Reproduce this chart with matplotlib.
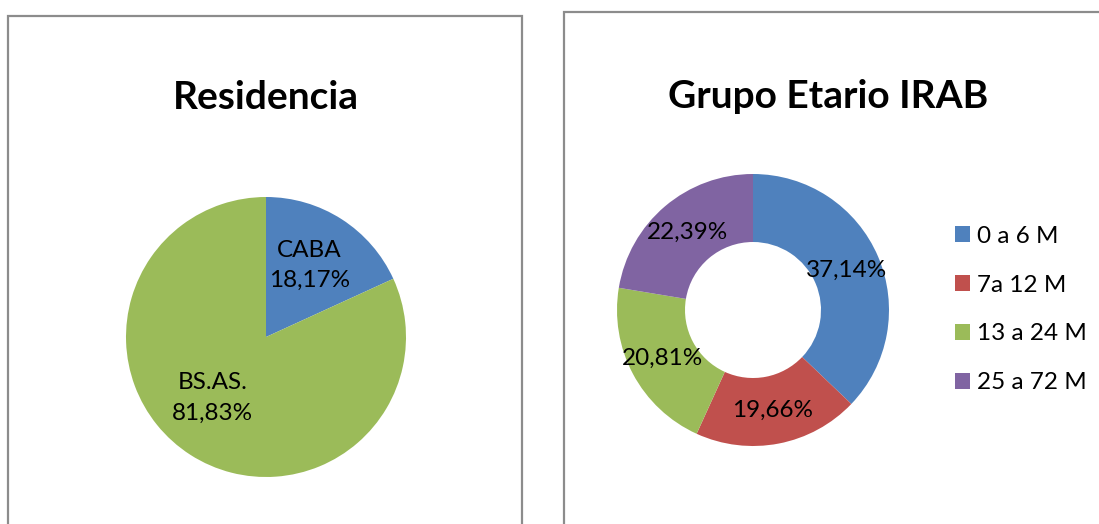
"""Two Excel-style charts: Residencia pie and Grupo Etario IRAB donut."""

import matplotlib
matplotlib.use("Agg")
import matplotlib.pyplot as plt
from matplotlib.patches import Rectangle

plt.rcParams["font.family"] = ["Lato", "DejaVu Sans"]

# Residencia pie
RES_LABELS = ["CABA", "BS.AS."]
RES_VALUES = [18.17, 81.83]
RES_COLORS = ["#4F81BD", "#9BBB59"]

# Grupo Etario donut
AGE_LABELS = ["0 a 6 M", "7a 12 M", "13 a 24 M", "25 a 72 M"]
AGE_VALUES = [37.14, 19.66, 20.81, 22.39]
AGE_COLORS = ["#4F81BD", "#C0504D", "#9BBB59", "#8064A2"]

W, H = 1099, 524
BORDER = "#8C8C8C"
LABEL_SIZE = 17.5
TITLE_SIZE = 28


def fmt_pct(p):
    return f"{p:.2f}%".replace(".", ",")


def px_axes(fig, cx, cy, r):
    """Square axes centred on pixel (cx, cy) with radius r (pixels, top-left origin)."""
    ax = fig.add_axes([(cx - r) / W, (H - cy - r) / H, 2 * r / W, 2 * r / H])
    ax.axis("off")
    return ax


def fit(ax):
    # pie() pads limits to +-1.25; pull them back so radius 1 fills the axes
    ax.set_xlim(-1, 1)
    ax.set_ylim(-1, 1)
    ax.set_aspect("equal")


fig = plt.figure(figsize=(W / 100, H / 100), dpi=100)

# panel borders (run off the bottom / right edge like the screenshot)
fig.patches.append(Rectangle((8 / W, -0.1), 514 / W, 1.1 - 16 / H, transform=fig.transFigure,
                             fill=False, edgecolor=BORDER, linewidth=1.6))
fig.patches.append(Rectangle((564 / W, -0.1), 0.6, 1.1 - 12 / H, transform=fig.transFigure,
                             fill=False, edgecolor=BORDER, linewidth=1.6))

# left: pie
ax1 = px_axes(fig, 266, 337, 140)
ax1.pie(RES_VALUES, colors=RES_COLORS, startangle=90, counterclock=False, radius=1,
        wedgeprops=dict(linewidth=0))
fit(ax1)
res_pos = [(0.31, 0.51), (-0.38, -0.435)]
for lab, val, (x, y) in zip(RES_LABELS, RES_VALUES, res_pos):
    ax1.text(x, y, f"{lab}\n{fmt_pct(val)}", ha="center", va="center", fontsize=LABEL_SIZE,
             linespacing=1.55)
fig.text(266 / W, 1 - 109 / H, "Residencia", ha="center", va="baseline",
         fontsize=TITLE_SIZE, fontweight="bold")

# right: donut
ax2 = px_axes(fig, 753, 310, 136)
wedges, _, autotexts = ax2.pie(AGE_VALUES, colors=AGE_COLORS, startangle=90,
                               counterclock=False, radius=1, autopct=fmt_pct,
                               pctdistance=0.75,
                               wedgeprops=dict(width=0.5, linewidth=0))
fit(ax2)
for t in autotexts:
    t.set_fontsize(LABEL_SIZE)
fig.text(828 / W, 1 - 108 / H, "Grupo Etario IRAB", ha="center", va="baseline",
         fontsize=TITLE_SIZE, fontweight="bold")

fig.legend(wedges, AGE_LABELS, loc="center left", bbox_to_anchor=(955 / W, 1 - 309.5 / H),
           frameon=False, fontsize=LABEL_SIZE, handlelength=0.6, handleheight=0.6,
           handletextpad=0.3, labelspacing=1.15, borderpad=0, borderaxespad=0)

fig.savefig("out.png", dpi=100)
